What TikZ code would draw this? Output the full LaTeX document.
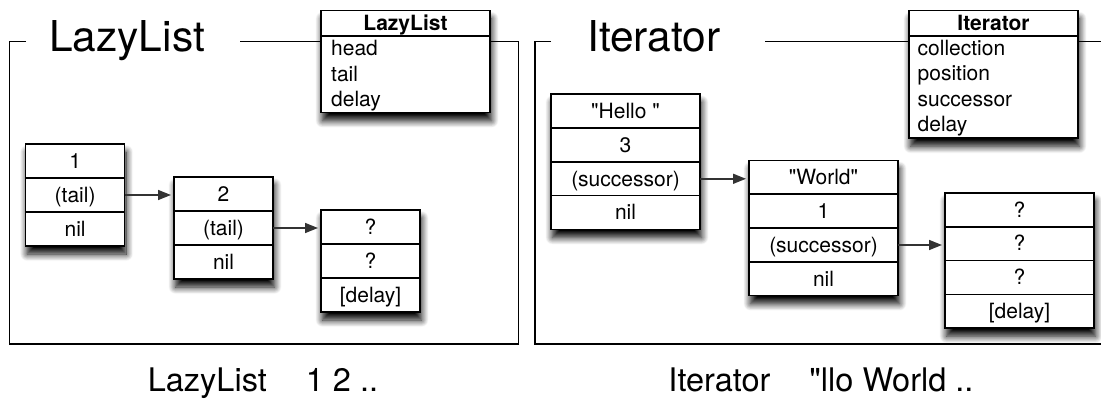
\documentclass[tikz,border=0pt]{standalone}
\usepackage{fontspec}
\setmainfont{TeX Gyre Heros}[Ligatures=TeXOff]
\usetikzlibrary{arrows.meta,shadows.blur}
\begin{document}
\begin{tikzpicture}[x=1pt,y=-1pt,
  frame/.style={line width=1.4pt},
  shad/.style={blur shadow={shadow xshift=1.5pt,shadow yshift=-8pt,shadow blur radius=7pt,shadow blur steps=12,shadow opacity=100}},
  box/.style={draw, line width=1.6pt, fill=white, shad, inner sep=0pt, outer sep=0pt, anchor=north west},
  cell/.style={draw, line width=1.6pt, inner sep=0pt, outer sep=0pt, anchor=north, minimum height=34pt,
    font=\fontsize{21}{24}\selectfont, text height=14.5pt, text depth=0pt},
  lw/.style={minimum width=99pt},
  iw/.style={minimum width=149pt},
  iwc/.style={minimum width=149pt, minimum height=33.8pt},
  head/.style={cell, minimum height=25.3pt, font=\fontsize{21}{24}\selectfont\bfseries, text height=14.5pt},
  row/.style={anchor=base west, inner sep=0pt, font=\fontsize{21}{24}\selectfont},
  title/.style={anchor=base west, inner sep=0pt, font=\fontsize{42.5}{48}\selectfont},
  caption/.style={anchor=base, inner sep=0pt, font=\fontsize{32.5}{36}\selectfont},
  arr/.style={draw=black!80, line width=1.5pt, -{Triangle[length=13pt,width=10pt]}, shorten >=3pt}
]
\useasboundingbox (0,0) rectangle (1101,403);

% frames
\draw[frame] (26,41.7) -- (9.5,41.7) -- (9.5,344) -- (518.5,344) -- (518.5,41.7) -- (240,41.7);
\draw[frame] (551,41.7) -- (535,41.7) -- (535,344) -- (1106,344);
\draw[frame] (765,41.7) -- (1106,41.7);

% titles
\node[title] (t1) at (49,51.7) {LazyList};
\node[title] (t2) at (587,51.7) {Iterator};

% class boxes
\node[box, minimum width=169pt, minimum height=102pt] (CL) at (321,10.7) {};
\node[head, minimum width=169pt] (CLh) at (CL.north) {LazyList};
\node[row] (CL1) at (331,56) {head};
\node[row] (CL2) at (331,81.5) {tail};
\node[row] (CL3) at (331,107) {delay};

\node[box, minimum width=169pt, minimum height=127.6pt] (CI) at (909,10.7) {};
\node[head, minimum width=169pt] (CIh) at (CI.north) {Iterator};
\node[row] (CI1) at (917.5,55.5) {collection};
\node[row] (CI2) at (917.5,81) {position};
\node[row] (CI3) at (917.5,106.5) {successor};
\node[row] (CI4) at (917.5,132) {delay};

% LazyList cells
\node[box, lw, minimum height=102pt] (L1) at (25.6,144) {};
\node[cell, lw] (L1a) at (L1.north) {1};
\node[cell, lw] (L1b) at (L1a.south) {(tail)};
\node[cell, lw] (L1c) at (L1b.south) {nil};

\node[box, lw, minimum height=102pt] (L2) at (174,177) {};
\node[cell, lw] (L2a) at (L2.north) {2};
\node[cell, lw] (L2b) at (L2a.south) {(tail)};
\node[cell, lw] (L2c) at (L2b.south) {nil};

\node[box, lw, minimum height=102pt] (L3) at (321,210) {};
\node[cell, lw] (L3a) at (L3.north) {?};
\node[cell, lw] (L3b) at (L3a.south) {?};
\node[cell, lw] (L3c) at (L3b.south) {[delay]};

% Iterator cells
\node[box, iw, minimum height=135.2pt] (I1) at (551,94.3) {};
\node[cell, iwc] (I1a) at (I1.north) {"Hello "};
\node[cell, iwc] (I1b) at (I1a.south) {3};
\node[cell, iwc] (I1c) at (I1b.south) {(successor)};
\node[cell, iwc] (I1d) at (I1c.south) {nil};

\node[box, iw, minimum height=135.2pt] (I2) at (749,160.5) {};
\node[cell, iwc] (I2a) at (I2.north) {"World"};
\node[cell, iwc] (I2b) at (I2a.south) {1};
\node[cell, iwc] (I2c) at (I2b.south) {(successor)};
\node[cell, iwc] (I2d) at (I2c.south) {nil};

\node[box, iw, minimum height=135.2pt] (I3) at (945,193) {};
\node[cell, iwc] (I3a) at (I3.north) {?};
\node[cell, iwc] (I3b) at (I3a.south) {?};
\node[cell, iwc] (I3c) at (I3b.south) {?};
\node[cell, iwc] (I3d) at (I3c.south) {[delay]};

% arrows
\draw[arr] (L1b.east) -- (L1b.east -| L2a.west);
\draw[arr] (L2b.east) -- (L2b.east -| L3a.west);
\draw[arr] (I1c.east) -- (I1c.east -| I2a.west);
\draw[arr] (I2c.east) -- (I2c.east -| I3b.west);

% captions
\node[caption] (c1) at (263,391.7) {LazyList\hspace{1.2em}1 2 ..};
\node[caption] (c2) at (821,391.7) {Iterator\hspace{1.2em}"llo World ..};
\end{tikzpicture}
\end{document}
